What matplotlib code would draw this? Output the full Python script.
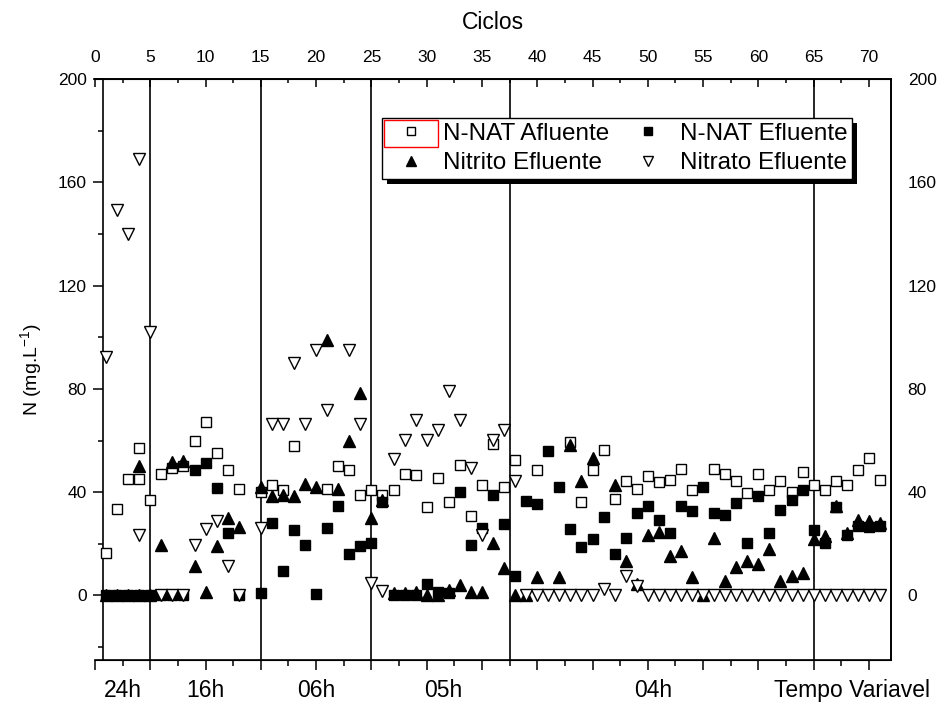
import matplotlib
matplotlib.use("Agg")
import matplotlib.pyplot as plt
from matplotlib.lines import Line2D
from matplotlib.patches import Rectangle
from matplotlib.transforms import IdentityTransform
from matplotlib.ticker import MultipleLocator

plt.rcParams['font.family'] = ['Liberation Sans', 'DejaVu Sans']
plt.rcParams['mathtext.default'] = 'regular'

# N-NAT Afluente (open squares)
afl_x = [1, 2, 3, 4, 4, 5, 6, 7, 8, 9, 10, 11, 12, 13, 15, 16, 17, 18,
         21, 22, 23, 24, 25, 26, 27, 28, 29, 30, 31, 32, 33, 34, 35, 36, 37, 38,
         40, 43, 44, 45, 46, 47, 48, 49, 50, 51, 52, 53, 54,
         56, 57, 58, 59, 60, 61, 62, 63, 64, 65, 66, 67, 68, 69, 70, 71]
afl_y = [16.5, 33.6, 45, 45, 57, 37, 47, 49.5, 50, 60, 67, 55, 48.7, 41.4, 40, 42.7, 40.7, 58,
         41.4, 50, 48.7, 39, 40.7, 39, 40.7, 47.2, 46.8, 34.3, 45.3, 36.2, 50.7, 30.7, 42.6, 58.8, 41.9, 52.3,
         48.4, 59.5, 36.2, 48.4, 56.2, 37.4, 44.2, 41.3, 46.2, 43.8, 44.9, 49, 40.7,
         49, 47.2, 44.2, 39.7, 47.2, 41, 44.2, 40, 47.7, 42.6, 40.7, 44.2, 42.9, 48.5, 53.3, 44.9]

# N-NAT Efluente (filled squares)
efl_x = [1, 2, 3, 4, 5, 6, 7, 8, 9, 10, 11, 12, 13, 15, 16, 17, 18, 19, 20,
         21, 22, 23, 24, 25, 26, 27, 28, 29, 30, 31, 32, 33, 34, 35, 36, 37, 38,
         39, 40, 41, 42, 43, 44, 45, 46, 47, 48, 49, 50, 51, 52, 53, 54, 55,
         56, 57, 58, 59, 60, 61, 62, 63, 64, 65, 66, 67, 68, 69, 70, 71]
efl_y = [0, 0, 0, 0, 0, 0, 0, 0, 48.7, 51.3, 41.7, 24.2, 0, 0.8, 27.9, 9.4, 25.3, 19.7, 0.4,
         26.2, 34.6, 15.9, 19.3, 20.4, 36, 0, 0, 0, 4.5, 1.5, 1, 40, 19.7, 26, 38.8, 27.7, 7.5,
         36.7, 35.6, 55.8, 42, 25.8, 18.8, 21.9, 30.4, 16.2, 22.3, 32, 34.8, 29.1, 24, 34.6, 32.6, 42,
         32, 31.3, 35.9, 20.4, 38.4, 24, 33, 37.1, 40.7, 25.3, 20.4, 34.3, 23.6, 27, 26.5, 27]

# Nitrito Efluente (filled triangles)
nitrito_x = [1, 2, 3, 4, 5, 4, 6, 7, 8, 9, 10, 11, 12, 13, 15, 16, 17, 18, 19, 20,
             21, 22, 23, 24, 25, 26, 27, 28, 29, 30, 31, 32, 33, 34, 35, 36, 37, 38,
             39, 40, 42, 43, 44, 45, 47, 48, 49, 50, 51, 52, 53, 54, 55,
             56, 57, 58, 59, 60, 61, 62, 63, 64, 65, 66, 67, 68, 69, 70, 71]
nitrito_y = [0, 0, 0, 0, 0, 50, 19.7, 51.7, 52, 11.3, 1.3, 19, 29.8, 26.6, 41.9, 38.4, 39, 38.4, 43, 42,
             99, 41.4, 60, 78.4, 30, 37, 1, 1, 1.5, 0, 0, 2, 4, 1.5, 1.5, 20.4, 10.7, 0,
             0, 7.2, 7.2, 58.4, 44.2, 53.3, 42.6, 13.3, 4.3, 23.6, 24.5, 15.2, 17.4, 7.1, 0,
             22.3, 5.5, 11.1, 13.3, 12.3, 18.1, 5.5, 7.5, 8.5, 21.9, 22.9, 34.6, 24.2, 29.4, 28.7, 27.9]

# Nitrato Efluente (open down triangles)
nitrato_x = [1, 2, 3, 4, 4, 5, 6, 7, 8, 9, 10, 11, 12, 13, 15, 16, 17, 18, 19, 20,
             21, 23, 24, 25, 26, 27, 28, 29, 30, 31, 32, 33, 34, 35, 36, 37, 38,
             39, 40, 41, 42, 43, 44, 45, 46, 47, 48, 49, 50, 51, 52, 53, 54, 55,
             56, 57, 58, 59, 60, 61, 62, 63, 64, 65, 66, 67, 68, 69, 70, 71]
nitrato_y = [92.3, 149.3, 140, 169, 23.6, 102.2, 0, 0, 0, 19.7, 25.8, 28.7, 11.3, 0, 26.2, 66.5, 66.5, 90, 66.5, 95.2,
             72, 95, 66.5, 5, 1.7, 52.9, 60.3, 67.8, 60.3, 64.2, 79, 67.8, 49.4, 23.6, 60.1, 64, 44.2,
             0, 0, 0, 0, 0, 0, 0, 2.4, 0, 7.5, 3.6, 0, 0, 0, 0, 0, 0,
             0, 0, 0, 0, 0, 0, 0, 0, 0, 0, 0, 0, 0, 0, 0, 0]

phase_lines = [5, 15, 25, 37.5, 65]
phase_labels = ['24h', '16h', '06h', '05h', '04h', 'Tempo Variavel']
phase_label_x = [2.5, 10, 20, 31.5, 50.5, 68.5]

fig = plt.figure(figsize=(9.44, 7.02), dpi=100)
ax = fig.add_axes([95 / 944, 42 / 702, 796 / 944, 581 / 702])
ax.set_xlim(0, 72)
ax.set_ylim(-25, 200)

open_kw = dict(ls='none', mfc='white', mec='black', mew=1.0)
ax.plot(afl_x, afl_y, marker='s', ms=7.2, zorder=3, **open_kw)
ax.plot(efl_x, efl_y, ls='none', marker='s', ms=7.2, color='black', zorder=3)
ax.plot(nitrito_x, nitrito_y, ls='none', marker='^', ms=8.5, color='black', zorder=3)
ax.plot(nitrato_x, nitrato_y, marker='v', ms=8.5, zorder=3, **open_kw)

for xv in phase_lines:
    ax.axvline(xv, color='black', lw=1.2, zorder=2)

for s in ax.spines.values():
    s.set_linewidth(1.2)
ax.spines['left'].set_position(('data', 0.75))

# bottom axis: ticks only
ax.xaxis.set_major_locator(MultipleLocator(5))
ax.xaxis.set_minor_locator(MultipleLocator(2.5))
ax.tick_params(axis='x', which='both', direction='out', labelbottom=False, top=False, width=1.1)
ax.tick_params(axis='x', which='major', length=7)
ax.tick_params(axis='x', which='minor', length=4)

# left axis
ax.yaxis.set_major_locator(MultipleLocator(40))
ax.yaxis.set_minor_locator(MultipleLocator(20))
ax.tick_params(axis='y', which='both', direction='out', width=1.1, labelsize=12.5, pad=5)
ax.tick_params(axis='y', which='major', length=7)
ax.tick_params(axis='y', which='minor', length=3.5)
ax.set_ylabel('N (mg.L$^{-1}$)', fontsize=14, labelpad=10)

# top axis: cycles
top = ax.secondary_xaxis('top')
top.xaxis.set_major_locator(MultipleLocator(5))
top.xaxis.set_minor_locator(MultipleLocator(2.5))
top.tick_params(axis='x', which='both', direction='in', width=1.1, labelsize=12.5, pad=10)
top.tick_params(axis='x', which='major', length=6)
top.tick_params(axis='x', which='minor', length=3)
top.spines['top'].set_linewidth(1.2)
top.set_xlabel('Ciclos', fontsize=16.5, labelpad=15)

# right axis labels
right = ax.twinx()
right.set_ylim(-25, 200)
right.yaxis.set_major_locator(MultipleLocator(40))
right.tick_params(axis='y', length=0, pad=12, labelsize=12.5)
right.spines['left'].set_visible(False)
right.spines['right'].set_linewidth(1.2)

# phase labels under the bottom axis
for lab, xv in zip(phase_labels, phase_label_x):
    ax.text(xv, -0.052, lab, transform=ax.get_xaxis_transform(), ha='center', va='center',
            fontsize=16.5)

handles = [
    Line2D([], [], ls='none', marker='s', ms=6, mfc='white', mec='black', mew=1.0),
    Line2D([], [], ls='none', marker='^', ms=7.5, color='black'),
    Line2D([], [], ls='none', marker='s', ms=6, color='black'),
    Line2D([], [], ls='none', marker='v', ms=7.5, mfc='white', mec='black', mew=1.0),
]
labels = ['N-NAT Afluente', 'Nitrito Efluente', 'N-NAT Efluente', 'Nitrato Efluente']
leg = right.legend(handles, labels, ncol=2, loc='upper left', bbox_to_anchor=(0.3606, 0.933),
                   borderaxespad=0, fontsize=17.5, frameon=True, fancybox=False, framealpha=1,
                   edgecolor='black', handlelength=2.0, handletextpad=0.3, columnspacing=0.6,
                   borderpad=0.2, labelspacing=0.3)
leg.get_frame().set_linewidth(1.0)
leg.set_zorder(10)

fig.canvas.draw()
bb = leg.get_window_extent()
right.add_patch(Rectangle((bb.x0 + 5, bb.y0 - 5), bb.width, bb.height, transform=IdentityTransform(),
                          facecolor='black', edgecolor='none', zorder=9, clip_on=False))
right.add_patch(Rectangle((bb.x0 + 2, bb.y1 - 29), 54, 27, transform=IdentityTransform(),
                          facecolor='none', edgecolor='red', lw=1.0, zorder=11, clip_on=False))

fig.savefig('out.png', dpi=100)
